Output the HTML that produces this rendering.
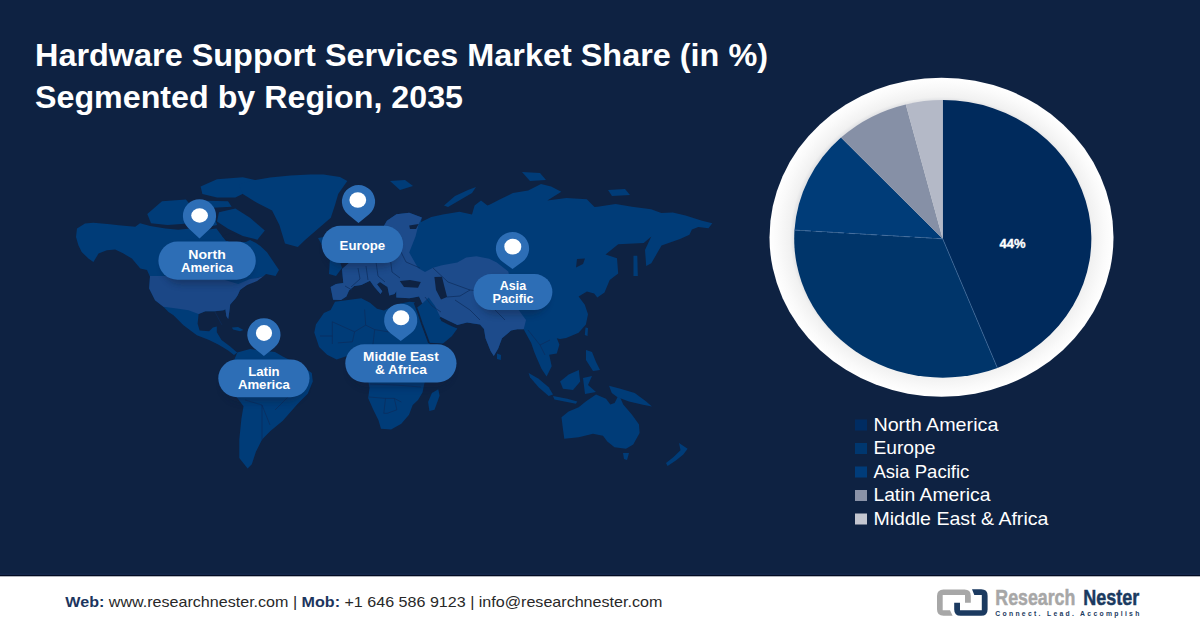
<!DOCTYPE html>
<html><head><meta charset="utf-8">
<style>
html,body{margin:0;padding:0;width:1200px;height:628px;overflow:hidden;background:#0e2242;}
svg{display:block;}
text{font-family:"Liberation Sans",sans-serif;}
</style></head>
<body>
<svg width="1200" height="628" viewBox="0 0 1200 628">
<defs>
  <radialGradient id="ringg" cx="0.5" cy="0.5" r="0.5">
    <stop offset="0.855" stop-color="#dfe0e3"/>
    <stop offset="0.88" stop-color="#f1f1f1"/>
    <stop offset="0.95" stop-color="#fafafa"/>
    <stop offset="1" stop-color="#ffffff"/>
  </radialGradient>
  <filter id="blur3" x="-20%" y="-50%" width="140%" height="200%"><feGaussianBlur stdDeviation="3"/></filter>
</defs>
<rect x="0" y="0" width="1200" height="628" fill="#0e2242"/>

<!-- MAP -->
<g>
<path fill="#003c78" d="M76.0 237.0 L77.0 228.5 L85.0 223.5 L93.4 222.7 L110.0 224.3 L118.5 225.2 L135.3 226.8 L140.0 223.3 L150.2 225.9 L165.5 228.4 L178.2 229.7 L195.0 228.0 L205.0 230.0 L216.4 228.4 L222.0 236.0 L229.0 242.0 L246.0 242.0 L250.0 239.9 L256.0 243.0 L260.3 246.0 L267.0 252.3 L273.6 262.0 L279.0 270.0 L275.5 276.0 L266.0 274.0 L263.8 276.0 L257.1 278.0 L250.0 281.0 L247.1 283.4 L240.0 290.0 L237.8 295.0 L235.9 297.9 L230.2 304.6 L229.2 312.2 L228.2 318.9 L226.3 316.0 L225.4 309.3 L223.5 310.3 L214.9 311.3 L205.3 311.3 L198.6 314.1 L197.6 323.7 L199.6 330.4 L209.1 331.3 L212.9 327.5 L216.8 326.5 L216.8 332.3 L221.5 339.9 L230.2 346.6 L235.9 351.4 L237.3 352.4 L234.0 355.0 L228.2 350.4 L218.7 344.7 L209.1 340.0 L196.9 335.3 L183.5 325.2 L173.5 315.2 L168.5 311.9 L163.4 306.8 L155.1 300.2 L149.2 288.4 L150.0 276.7 L147.0 270.0 L140.3 268.6 L131.9 258.6 L123.5 253.6 L115.2 249.4 L106.8 250.2 L98.5 253.6 L93.4 262.0 L88.4 258.6 L81.7 251.9 L78.4 245.2 Z"/>
<path fill="#1b4786" d="M150.0 276.0 L185.0 276.0 L215.0 276.0 L225.0 280.0 L238.0 284.0 L250.0 279.0 L257.1 278.0 L263.8 276.0 L257.1 281.0 L247.1 285.0 L240.0 290.0 L237.8 295.0 L235.9 297.9 L230.2 304.6 L229.2 312.2 L228.2 318.9 L226.3 316.0 L225.4 309.3 L223.5 310.3 L214.9 311.3 L205.3 311.3 L198.6 314.1 L188.5 310.2 L176.8 308.5 L163.4 306.8 L155.1 300.2 L149.2 288.4 Z"/>
<path fill="#003c78" d="M232.0 327.5 L238.0 327.0 L243.5 330.0 L240.0 331.3 L233.0 329.5 Z"/>
<path fill="#003c78" d="M147.3 214.0 L162.0 201.2 L185.9 199.4 L195.0 210.4 L191.4 223.2 L167.5 225.0 L151.0 223.2 Z"/>
<path fill="#003c78" d="M200.6 186.5 L217.0 179.2 L242.8 177.3 L259.3 181.0 L250.0 190.2 L235.4 197.5 L217.0 197.5 L202.4 193.9 Z"/>
<path fill="#003c78" d="M195.0 200.4 L228.0 201.2 L231.7 206.7 L198.7 208.5 Z"/>
<path fill="#003c78" d="M219.0 212.2 L235.4 208.5 L250.0 217.7 L264.8 230.6 L257.4 239.7 L242.8 236.0 L228.0 228.7 L217.0 221.4 Z"/>
<path fill="#003c78" d="M196.0 215.9 L213.4 213.0 L217.0 225.0 L200.6 228.7 Z"/>
<path fill="#003c78" d="M239.0 184.7 L250.0 181.0 L270.0 177.5 L290.5 175.5 L310.0 174.5 L323.5 174.6 L340.0 177.0 L347.3 181.0 L338.2 193.9 L335.0 205.0 L330.8 217.7 L316.0 230.6 L305.0 240.0 L297.8 247.0 L285.0 243.4 L279.4 225.0 L272.1 210.4 L257.4 203.0 L242.8 193.9 Z"/>
<path fill="#003c78" d="M318.0 238.0 L330.0 236.0 L334.0 242.0 L322.0 245.0 Z"/>
<path fill="#003c78" d="M237.3 352.4 L250.0 349.0 L262.1 350.5 L275.0 352.0 L282.8 356.6 L300.0 365.0 L311.8 373.1 L312.8 381.4 L307.7 393.8 L297.3 404.2 L282.8 420.7 L270.4 431.1 L262.1 439.4 L255.9 451.8 L251.8 464.2 L247.6 468.4 L239.3 458.0 L239.3 439.4 L241.4 418.7 L243.5 406.3 L237.3 398.0 L231.1 387.6 L229.0 377.0 L232.0 365.0 Z"/>
<path fill="#003c78" d="M330.6 287.0 L333.1 299.7 L341.0 300.0 L346.4 296.5 L349.0 290.4 L354.3 286.0 L361.3 285.1 L370.0 280.8 L374.4 286.9 L380.5 293.9 L382.3 291.3 L377.0 284.3 L380.0 282.0 L387.5 286.9 L389.3 295.6 L394.5 293.9 L396.3 291.3 L396.3 297.4 L409.4 298.3 L419.0 296.5 L422.3 303.5 L416.5 308.0 L421.0 322.0 L426.0 335.0 L428.9 342.8 L443.0 343.5 L452.0 336.0 L457.4 328.5 L453.5 327.0 L448.0 324.5 L441.3 321.0 L440.0 316.5 L448.0 320.5 L457.4 325.0 L467.0 322.5 L480.0 324.4 L484.0 329.0 L485.5 338.2 L490.6 351.0 L493.8 356.0 L498.2 348.4 L502.0 338.2 L511.0 330.6 L517.3 329.3 L523.7 329.3 L525.0 331.8 L531.3 343.3 L533.9 351.0 L536.4 357.3 L541.5 368.8 L546.6 376.4 L551.7 366.2 L549.2 354.8 L556.8 353.5 L559.4 344.6 L556.8 338.2 L560.0 339.0 L566.2 338.0 L578.6 332.8 L585.9 324.5 L588.0 314.2 L584.8 304.8 L578.6 296.6 L586.9 291.4 L594.2 293.5 L597.3 297.6 L604.5 292.4 L609.7 280.0 L618.2 273.5 L617.0 258.2 L605.5 254.4 L618.2 244.2 L643.7 242.9 L651.3 236.6 L645.0 250.0 L646.2 265.9 L651.3 263.3 L661.5 245.5 L680.0 239.1 L689.4 234.7 L691.9 229.6 L698.3 227.0 L708.5 228.3 L712.3 223.2 L702.1 220.7 L685.5 215.6 L672.8 212.4 L661.3 213.0 L651.1 209.2 L632.0 206.7 L615.5 204.1 L597.6 206.7 L594.5 207.0 L586.8 199.3 L566.4 198.0 L547.3 200.6 L561.3 191.7 L551.1 186.6 L541.0 184.0 L528.2 190.4 L512.9 193.0 L500.2 199.3 L490.0 204.4 L487.4 205.5 L481.0 200.4 L474.6 205.5 L472.0 214.4 L459.4 211.8 L442.8 214.4 L431.3 217.0 L421.0 222.0 L421.9 217.5 L409.2 212.7 L396.4 214.3 L386.9 220.7 L380.5 231.8 L377.3 252.5 L368.0 256.0 L358.0 258.0 L350.0 262.0 L342.0 269.0 L343.3 283.1 L336.0 284.0 Z"/>
<path fill="#1d4b8b" d="M330.6 287.0 L333.1 299.7 L341.0 300.0 L346.4 296.5 L349.0 290.4 L354.3 286.0 L361.3 285.1 L370.0 280.8 L374.4 286.9 L380.5 293.9 L382.3 291.3 L377.0 284.3 L380.0 282.0 L387.5 286.9 L389.3 295.6 L394.5 293.9 L396.3 291.3 L396.3 297.4 L409.4 298.3 L419.0 296.5 L422.3 303.5 L428.7 297.6 L435.0 306.0 L440.0 316.5 L448.0 320.5 L457.4 325.0 L467.0 322.5 L480.0 324.4 L484.0 329.0 L485.5 338.2 L490.6 351.0 L493.8 356.0 L498.2 348.4 L502.0 338.2 L511.0 330.6 L517.3 329.3 L523.7 329.3 L526.0 320.0 L515.0 305.0 L508.3 271.6 L496.8 262.6 L489.2 258.8 L476.4 256.3 L466.2 257.5 L457.3 262.6 L442.0 265.2 L433.1 267.7 L425.0 272.0 L418.0 268.0 L409.2 252.5 L415.5 236.6 L418.7 223.9 L421.9 217.5 L409.2 212.7 L396.4 214.3 L386.9 220.7 L380.5 231.8 L377.3 252.5 L368.0 256.0 L358.0 258.0 L350.0 262.0 L342.0 269.0 L343.3 283.1 L336.0 284.0 Z"/>
<path fill="#003c78" d="M330.0 258.0 L338.0 255.0 L342.0 268.0 L336.0 276.0 L329.0 274.0 Z"/>
<path fill="#003c78" d="M476.0 187.0 L468.0 190.0 L455.0 196.0 L444.0 205.5 L448.0 207.0 L460.0 200.0 L472.0 193.0 Z"/>
<path fill="#003c78" d="M390.0 181.0 L405.0 180.0 L413.0 186.0 L400.0 190.0 Z"/>
<path fill="#003c78" d="M522.0 172.0 L540.0 173.0 L546.0 180.0 L530.0 181.0 Z"/>
<path fill="#003c78" d="M608.0 190.0 L625.0 189.0 L630.0 195.0 L612.0 196.0 Z"/>
<path fill="#003c78" d="M330.6 309.9 L335.0 301.8 L348.1 300.0 L361.3 298.3 L370.0 302.7 L377.0 308.8 L384.0 310.5 L391.0 307.0 L400.7 303.5 L409.4 301.8 L414.6 302.2 L417.0 310.0 L421.0 322.0 L426.0 336.0 L430.0 345.0 L437.0 348.0 L447.0 347.0 L443.0 358.0 L432.0 372.0 L424.5 382.8 L422.5 392.5 L418.0 400.0 L412.7 405.0 L409.0 414.8 L401.3 423.7 L391.1 429.4 L381.0 428.8 L378.4 419.9 L373.3 409.7 L368.2 398.2 L369.5 388.0 L368.0 380.0 L367.5 360.0 L350.0 355.0 L336.6 359.6 L327.1 354.8 L319.1 346.9 L314.3 332.5 L315.9 324.6 L323.9 313.0 Z"/>
<path fill="#003c78" d="M438.3 389.3 L439.6 395.7 L434.5 409.7 L429.4 411.0 L428.1 402.0 L431.9 393.1 Z"/>
<path fill="#003c78" d="M561.5 417.2 L568.6 411.5 L578.7 407.2 L585.8 401.4 L596.0 394.4 L606.0 398.7 L610.3 404.5 L614.6 403.0 L618.9 394.4 L623.2 404.5 L631.8 414.5 L639.0 424.6 L639.6 433.0 L633.2 444.4 L626.0 448.7 L614.5 447.3 L607.3 441.6 L603.0 435.8 L593.0 433.7 L578.7 437.3 L564.3 438.7 L562.9 428.7 Z"/>
<path fill="#003c78" d="M623.0 453.0 L629.0 453.0 L627.0 460.0 L624.0 459.0 Z"/>
<path fill="#003c78" d="M609.0 385.8 L620.4 388.7 L634.7 393.0 L646.2 401.6 L651.9 406.6 L641.9 404.5 L629.0 401.6 L617.5 397.3 L611.8 393.0 Z"/>
<path fill="#003c78" d="M528.6 373.0 L538.6 378.7 L548.7 387.3 L553.0 394.4 L548.7 395.9 L538.6 387.3 L530.0 377.2 Z"/>
<path fill="#003c78" d="M553.0 396.0 L567.3 398.7 L577.3 401.6 L575.9 403.8 L554.4 399.5 Z"/>
<path fill="#003c78" d="M560.1 381.5 L568.7 374.4 L578.8 370.0 L580.2 381.5 L573.0 390.1 L563.0 388.7 Z"/>
<path fill="#003c78" d="M583.0 378.0 L592.0 376.0 L588.0 385.0 L596.0 392.0 L585.0 394.0 Z"/>
<path fill="#003c78" d="M586.0 350.0 L592.0 352.0 L596.0 362.0 L600.0 370.0 L593.0 371.0 L586.0 360.0 Z"/>
<path fill="#003c78" d="M585.5 327.6 L588.0 328.0 L587.5 335.9 L584.8 335.0 Z"/>
<path fill="#003c78" d="M633.5 255.7 L637.3 255.7 L637.8 276.0 L633.5 276.0 Z"/>
<path fill="#003c78" d="M497.0 353.5 L501.0 355.0 L500.8 360.0 L497.0 359.0 Z"/>
<path fill="#003c78" d="M679.0 443.0 L687.6 448.7 L683.3 454.5 L676.2 460.2 L667.6 466.0 L666.0 463.0 L673.3 457.3 L680.5 450.2 Z"/>
<polyline fill="none" stroke="#0c2b5a" stroke-width="0.8" opacity="0.85" points="332.3,321.8 354.6,331.8 365.7,325.1 364.6,309.5"/>
<polyline fill="none" stroke="#0c2b5a" stroke-width="0.8" opacity="0.85" points="354.6,331.8 352.4,341.8 337.9,342.9"/>
<polyline fill="none" stroke="#0c2b5a" stroke-width="0.8" opacity="0.85" points="365.7,325.1 374.7,329.6 388.0,331.8 385.8,312.8"/>
<polyline fill="none" stroke="#0c2b5a" stroke-width="0.8" opacity="0.85" points="374.7,329.6 373.5,339.6 372.0,352.0"/>
<polyline fill="none" stroke="#0c2b5a" stroke-width="0.8" opacity="0.85" points="332.3,321.8 332.3,344.0"/>
<polyline fill="none" stroke="#0c2b5a" stroke-width="0.8" opacity="0.85" points="388.0,331.8 405.0,333.0 414.0,322.0"/>
<polyline fill="none" stroke="#0c2b5a" stroke-width="0.8" opacity="0.85" points="320.0,336.0 332.3,336.0"/>
<polyline fill="none" stroke="#0c2b5a" stroke-width="0.8" opacity="0.85" points="369.0,397.0 385.5,398.4 394.3,398.4 401.3,402.0"/>
<polyline fill="none" stroke="#0c2b5a" stroke-width="0.8" opacity="0.85" points="385.5,398.4 383.8,413.3 387.3,413.3"/>
<polyline fill="none" stroke="#0c2b5a" stroke-width="0.8" opacity="0.85" points="394.3,398.4 396.9,409.8 387.3,413.3"/>
<polyline fill="none" stroke="#0c2b5a" stroke-width="0.8" opacity="0.85" points="370.0,384.0 395.0,385.0 421.0,387.0"/>
<polyline fill="none" stroke="#0c2b5a" stroke-width="0.8" opacity="0.85" points="358.0,268.0 360.0,279.0 351.0,287.0"/>
<polyline fill="none" stroke="#0c2b5a" stroke-width="0.8" opacity="0.85" points="366.0,266.0 368.0,280.0"/>
<polyline fill="none" stroke="#0c2b5a" stroke-width="0.8" opacity="0.85" points="376.0,262.0 378.0,276.0 385.0,282.0"/>
<polyline fill="none" stroke="#0c2b5a" stroke-width="0.8" opacity="0.85" points="390.0,256.0 392.0,272.0 400.0,278.0"/>
<polyline fill="none" stroke="#0c2b5a" stroke-width="0.8" opacity="0.85" points="400.0,250.0 406.0,262.0 420.0,268.0"/>
<polyline fill="none" stroke="#0c2b5a" stroke-width="0.8" opacity="0.85" points="345.0,286.0 352.0,290.0"/>
<polyline fill="none" stroke="#0c2b5a" stroke-width="0.8" opacity="0.85" points="433.0,268.0 448.0,282.0 470.0,290.0 490.0,292.0 505.0,300.0"/>
<polyline fill="none" stroke="#0c2b5a" stroke-width="0.8" opacity="0.85" points="455.0,300.0 470.0,310.0 480.0,320.0"/>
<polyline fill="none" stroke="#0c2b5a" stroke-width="0.8" opacity="0.85" points="490.0,292.0 495.0,310.0 505.0,320.0"/>
<polyline fill="none" stroke="#0c2b5a" stroke-width="0.8" opacity="0.85" points="447.0,297.0 460.0,296.0 470.0,290.0"/>
<polyline fill="none" stroke="#0c2b5a" stroke-width="0.8" opacity="0.85" points="425.0,297.0 432.0,306.0 441.0,312.0"/>
<polyline fill="none" stroke="#0c2b5a" stroke-width="0.8" opacity="0.85" points="255.0,370.0 275.0,375.0 290.0,395.0 275.0,410.0"/>
<polyline fill="none" stroke="#0c2b5a" stroke-width="0.8" opacity="0.85" points="245.0,400.0 262.0,405.0 270.0,425.0"/>
<polyline fill="none" stroke="#0c2b5a" stroke-width="0.8" opacity="0.85" points="262.0,405.0 262.0,440.0"/>
<polyline fill="none" stroke="#0c2b5a" stroke-width="0.8" opacity="0.85" points="528.0,330.0 540.0,345.0 550.0,340.0"/>
<polyline fill="none" stroke="#0c2b5a" stroke-width="0.8" opacity="0.85" points="540.0,345.0 545.0,355.0"/>
<polyline fill="none" stroke="#0c2b5a" stroke-width="0.8" opacity="0.85" points="215.0,312.0 222.0,325.0"/>
<polyline fill="none" stroke="#0c2b5a" stroke-width="0.8" opacity="0.85" points="380.0,230.0 388.0,236.0 396.0,232.0"/>
<path fill="#0e2242" d="M434.4 277.0 L442.0 276.7 L444.0 285.0 L447.1 297.0 L441.0 299.6 L436.0 290.0 Z"/>
<path fill="#0e2242" d="M399.8 281.0 L410.0 279.9 L420.8 282.0 L418.0 287.8 L404.0 287.0 Z"/>
<path fill="#0e2242" d="M394.8 239.8 L401.2 236.6 L399.6 252.5 L393.2 255.7 L390.0 250.0 Z"/>
<path fill="#0e2242" d="M222.0 236.0 L232.0 233.0 L240.0 237.0 L236.0 241.0 L226.0 241.0 Z"/>
<path fill="#0e2242" d="M409.2 225.5 L418.7 223.9 L416.0 229.0 L410.0 229.0 Z"/>
<path fill="#0e2242" d="M577.0 259.0 L585.0 258.6 L583.0 264.0 L576.0 267.6 Z"/>
<polyline fill="none" stroke="#0e2242" stroke-width="1.8" points="414.6,303 418,312 422,324 426.5,336 429,343"/>
<polyline fill="none" stroke="#0e2242" stroke-width="1.5" points="440,318 448,322.5 457,326.8"/>
</g>
<path d="M188.2 227.9 A16.6 16.6 0 1 1 210.8 227.9 L199.5 238.5 Z" fill="#2d6eb6"/>
<ellipse cx="199.6" cy="215.5" rx="8.4" ry="7.2" fill="#ffffff"/>
<path d="M348.1 214.6 A16.6 16.6 0 1 1 368.9 214.6 L358.5 223.0 Z" fill="#2d6eb6"/>
<ellipse cx="357.8" cy="200.0" rx="8.4" ry="7.8" fill="#ffffff"/>
<path d="M502.9 262.1 A16.6 16.6 0 1 1 522.1 262.1 L512.5 269.0 Z" fill="#2d6eb6"/>
<ellipse cx="512.8" cy="246.7" rx="8.5" ry="7.9" fill="#ffffff"/>
<path d="M390.8 333.6 A16.6 16.6 0 1 1 410.6 333.6 L400.7 341.0 Z" fill="#2d6eb6"/>
<ellipse cx="401.0" cy="317.7" rx="8.3" ry="7.5" fill="#ffffff"/>
<path d="M253.6 347.8 A16.6 16.6 0 1 1 274.2 347.8 L263.9 356.0 Z" fill="#2d6eb6"/>
<ellipse cx="264.0" cy="333.0" rx="8.1" ry="7.9" fill="#ffffff"/>
<rect x="162.4" y="246.6" width="89.4" height="38.2" rx="19.1" fill="#0a1a38" opacity="0.35" filter="url(#blur3)"/>
<rect x="158.4" y="241.6" width="97.4" height="38.2" rx="19.1" fill="#2d6eb6"/>
<text x="207.1" y="259.1" text-anchor="middle" font-size="12.5" font-weight="bold" fill="#ffffff" textLength="37.5" lengthAdjust="spacingAndGlyphs">North</text>
<text x="207.1" y="272.0" text-anchor="middle" font-size="12.5" font-weight="bold" fill="#ffffff" textLength="52.2" lengthAdjust="spacingAndGlyphs">America</text>
<rect x="325.7" y="230.8" width="73.4" height="37.3" rx="18.7" fill="#0a1a38" opacity="0.35" filter="url(#blur3)"/>
<rect x="321.7" y="225.8" width="81.4" height="37.3" rx="18.7" fill="#2d6eb6"/>
<text x="362.4" y="250.3" text-anchor="middle" font-size="12.5" font-weight="bold" fill="#ffffff" textLength="45.6" lengthAdjust="spacingAndGlyphs">Europe</text>
<rect x="477.5" y="279.1" width="70.9" height="35.9" rx="17.9" fill="#0a1a38" opacity="0.35" filter="url(#blur3)"/>
<rect x="473.5" y="274.1" width="78.9" height="35.9" rx="17.9" fill="#2d6eb6"/>
<text x="513.0" y="289.6" text-anchor="middle" font-size="12.5" font-weight="bold" fill="#ffffff" textLength="26.5" lengthAdjust="spacingAndGlyphs">Asia</text>
<text x="513.0" y="302.5" text-anchor="middle" font-size="12.5" font-weight="bold" fill="#ffffff" textLength="41.0" lengthAdjust="spacingAndGlyphs">Pacific</text>
<rect x="349.3" y="349.2" width="103.2" height="38.3" rx="19.2" fill="#0a1a38" opacity="0.35" filter="url(#blur3)"/>
<rect x="345.3" y="344.2" width="111.2" height="38.3" rx="19.2" fill="#2d6eb6"/>
<text x="400.9" y="360.6" text-anchor="middle" font-size="12.5" font-weight="bold" fill="#ffffff" textLength="75.6" lengthAdjust="spacingAndGlyphs">Middle East</text>
<text x="400.9" y="373.7" text-anchor="middle" font-size="12.5" font-weight="bold" fill="#ffffff" textLength="52.0" lengthAdjust="spacingAndGlyphs">&amp; Africa</text>
<rect x="222.3" y="364.4" width="83.2" height="37.9" rx="19.0" fill="#0a1a38" opacity="0.35" filter="url(#blur3)"/>
<rect x="218.3" y="359.4" width="91.2" height="37.9" rx="19.0" fill="#2d6eb6"/>
<text x="263.9" y="375.6" text-anchor="middle" font-size="12.5" font-weight="bold" fill="#ffffff" textLength="31.5" lengthAdjust="spacingAndGlyphs">Latin</text>
<text x="263.9" y="388.8" text-anchor="middle" font-size="12.5" font-weight="bold" fill="#ffffff" textLength="52.0" lengthAdjust="spacingAndGlyphs">America</text>

<!-- TITLE -->
<g fill="#ffffff" font-weight="bold" font-size="32">
  <text x="35" y="65.5" textLength="733" lengthAdjust="spacingAndGlyphs">Hardware Support Services Market Share (in %)</text>
  <text x="35" y="107.5" textLength="428" lengthAdjust="spacingAndGlyphs">Segmented by Region, 2035</text>
</g>

<!-- PIE -->
<ellipse cx="941.5" cy="237.2" rx="172" ry="159.5" fill="url(#ringg)"/>
<g id="pie">
<path d="M942.7 238.8 L942.7 100.0 A148.5 138.8 0 0 1 997.4 367.9 Z" fill="#002a5c"/>
<path d="M942.7 238.8 L997.4 367.9 A148.5 138.8 0 0 1 794.5 230.1 Z" fill="#00356a"/>
<path d="M942.7 238.8 L794.5 230.1 A148.5 138.8 0 0 1 841.0 137.6 Z" fill="#003c78"/>
<path d="M942.7 238.8 L841.0 137.6 A148.5 138.8 0 0 1 905.8 104.4 Z" fill="#8690a6"/>
<path d="M942.7 238.8 L905.8 104.4 A148.5 138.8 0 0 1 942.7 100.0 Z" fill="#b4b9c7"/>
<line x1="942.7" y1="238.8" x2="997.4" y2="367.9" stroke="#3f6a9c" stroke-width="0.7"/>
<line x1="942.7" y1="238.8" x2="794.5" y2="230.1" stroke="#4a72a3" stroke-width="0.8" stroke-dasharray="6 5"/>
<text x="999.5" y="248" font-size="13.4" font-weight="bold" fill="#ffffff" stroke="#ffffff" stroke-width="0.35" textLength="26" lengthAdjust="spacingAndGlyphs">44%</text>
</g>

<!-- LEGEND -->
<g font-size="18.5" fill="#ffffff">
  <rect x="855" y="419.5" width="12" height="11" fill="#002c62"/>
  <text x="873.4" y="430.5" textLength="125" lengthAdjust="spacingAndGlyphs">North America</text>
  <rect x="855" y="443" width="12" height="11" fill="#00376f"/>
  <text x="873.4" y="454" textLength="62" lengthAdjust="spacingAndGlyphs">Europe</text>
  <rect x="855" y="466.5" width="12" height="11" fill="#003c7a"/>
  <text x="873.4" y="477.5" textLength="96" lengthAdjust="spacingAndGlyphs">Asia Pacific</text>
  <rect x="855" y="490" width="12" height="11" fill="#8a93a8"/>
  <text x="873.4" y="501.2" textLength="117" lengthAdjust="spacingAndGlyphs">Latin America</text>
  <rect x="855" y="513.5" width="12" height="11" fill="#c3c6d0"/>
  <text x="873.4" y="524.5" textLength="175" lengthAdjust="spacingAndGlyphs">Middle East &amp; Africa</text>
</g>

<!-- FOOTER -->
<rect x="0" y="576" width="1200" height="52" fill="#ffffff"/>
<rect x="0" y="573.5" width="1200" height="1.5" fill="#13264b"/><rect x="0" y="575" width="1200" height="1.3" fill="#000a22"/>
<g font-size="15" fill="#282828">
  <text x="65.3" y="606.7" textLength="597" lengthAdjust="spacingAndGlyphs"><tspan font-weight="bold" fill="#1c355e">Web:</tspan> www.researchnester.com | <tspan font-weight="bold" fill="#1c355e">Mob:</tspan> +1 646 586 9123 | info@researchnester.com</text>
</g>
<!-- LOGO -->
<g id="logo">
  <path fill="#a7a7a7" d="M943.5 589.6 H964.5 Q970.8 589.6 970.8 595.9 V602.7 H965 V595 H942.7 V610.3 H950 L952.6 615.8 H943.5 Q937 615.8 937 609.3 V596.1 Q937 589.6 943.5 589.6 Z"/>
  <path fill="#1b3a60" d="M972 589.3 H981.2 Q987.6 589.3 987.6 595.7 V609.4 Q987.6 615.8 981.2 615.8 H960.6 Q954.2 615.8 954.2 609.4 V602.7 H960 V610.3 H981.8 V595 H974.3 Z"/>
  <text x="995.3" y="605.3" font-size="22" font-weight="bold" fill="#a7a7a7" stroke="#a7a7a7" stroke-width="0.5" textLength="80" lengthAdjust="spacingAndGlyphs">Research</text>
  <text x="1083.3" y="605.3" font-size="22" font-weight="bold" fill="#1b3a60" stroke="#1b3a60" stroke-width="0.5" textLength="56" lengthAdjust="spacingAndGlyphs">Nester</text>
  <text x="995.3" y="616" font-size="6.8" font-weight="bold" fill="#1b3a60" textLength="144" lengthAdjust="spacing">Connect. Lead. Accomplish</text>
</g>

</svg>
</body></html>
